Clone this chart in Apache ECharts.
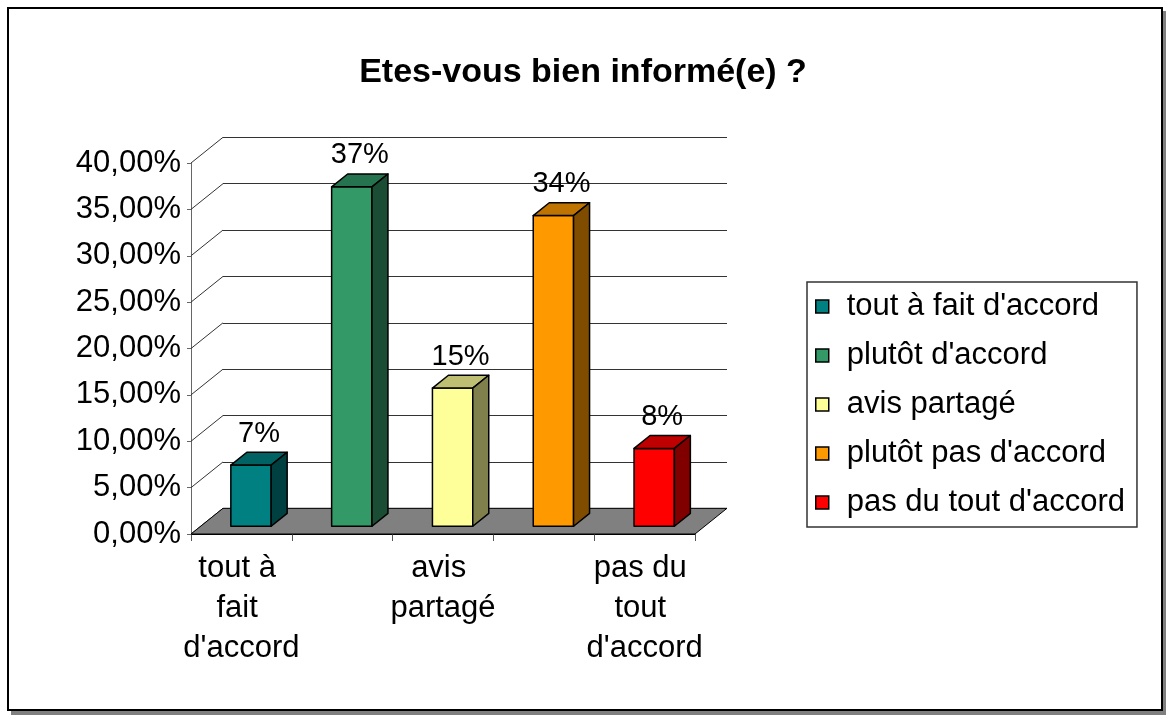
<!DOCTYPE html>
<html>
<head>
<meta charset="utf-8">
<script src="https://cdn.jsdelivr.net/npm/echarts@6/dist/echarts.min.js"></script>
<style>
  html, body { margin: 0; padding: 0; background: #fff; }
  #frame {
    position: absolute; left: 7px; top: 7px; width: 1152px; height: 700px;
    border: 2px solid #000; box-shadow: 4px 4px 0 #808080; background: #fff;
  }
  #chart { position: absolute; left: 0; top: 0; width: 1166px; height: 715px; }
</style>
</head>
<body>
<div id="frame"></div>
<div id="chart"></div>
<script>
  // donnees
  var categories = ["tout à fait d'accord", "plutôt d'accord", "avis partagé", "plutôt pas d'accord", "pas du tout d'accord"];
  var values = [0.066, 0.366, 0.149, 0.335, 0.084];
  var yTicks = [0, 0.05, 0.10, 0.15, 0.20, 0.25, 0.30, 0.35, 0.40];

  // couleurs des faces (avant / dessus / cote)
  var frontColors = ['#008080', '#339966', '#FFFF99', '#FF9900', '#FF0000'];
  var topColors = ['#006262', '#267350', '#BFBF73', '#BF7300', '#BF0000'];
  var sideColors = ['#004040', '#1A4D33', '#80804D', '#804D00', '#800000'];

  var FONT = '"Liberation Sans", Arial, sans-serif';
  // decalage de profondeur (perspective oblique)
  var DX = 32, DY = -25.7;
  var GRID_LEFT = 191, GRID_TOP = 163, GRID_W = 504, GRID_H = 371;

  var myChart = echarts.init(document.getElementById('chart'));

  function renderBar(params, api) {
    var band = api.size([1, 0])[0];
    var c = api.coord([api.value(0), api.value(1)]);
    var b = api.coord([api.value(0), 0]);
    var w = band * 0.4;
    var ox = DX * 0.3, oy = DY * 0.3;
    var dx = DX * 0.5, dy = DY * 0.5;
    var x0 = c[0] - w / 2 + ox, x1 = c[0] + w / 2 + ox;
    var yt = c[1] + oy, yb = b[1] + oy;
    var i = params.seriesIndex - 2;
    var stroke = { stroke: '#000', lineWidth: 1.5, lineJoin: 'round' };
    return {
      type: 'group',
      children: [
        { type: 'rect', shape: { x: x0, y: yt, width: w, height: yb - yt },
          style: Object.assign({ fill: frontColors[i] }, stroke) },
        { type: 'polygon', shape: { points: [[x0, yt], [x1, yt], [x1 + dx, yt + dy], [x0 + dx, yt + dy]] },
          style: Object.assign({ fill: topColors[i] }, stroke) },
        { type: 'polygon', shape: { points: [[x1, yt], [x1 + dx, yt + dy], [x1 + dx, yb + dy], [x1, yb]] },
          style: Object.assign({ fill: sideColors[i] }, stroke) },
        { type: 'text',
          style: { text: Math.round(api.value(1) * 100) + '%', x: (x0 + x1) / 2 + dx / 2, y: yt + dy - 4,
                   fill: '#000', fontSize: 29, fontFamily: FONT, align: 'center', verticalAlign: 'bottom' } }
      ]
    };
  }

  var series = [{
    // parois laterales : diagonales des graduations
    type: 'custom', name: 'walls', xAxisIndex: 0, yAxisIndex: 0, clip: false, silent: true, z: 1,
    data: yTicks.map(function (v) { return [0, v]; }),
    renderItem: function (params, api) {
      var band = api.size([1, 0])[0];
      var p = api.coord([0, api.value(1)]);
      var x = p[0] - band / 2;
      return { type: 'line', shape: { x1: x, y1: p[1], x2: x + DX, y2: p[1] + DY },
               style: { stroke: '#333', lineWidth: 1 } };
    }
  }, {
    // sol
    type: 'custom', name: 'floor', xAxisIndex: 0, yAxisIndex: 0, clip: false, silent: true, z: 2,
    data: [[0, 0]],
    renderItem: function (params, api) {
      var band = api.size([1, 0])[0];
      var xl = api.coord([0, 0])[0] - band / 2;
      var xr = api.coord([categories.length - 1, 0])[0] + band / 2;
      var y = api.coord([0, 0])[1];
      return { type: 'polygon', shape: { points: [[xl, y], [xr, y], [xr + DX, y + DY], [xl + DX, y + DY]] },
               style: { fill: '#808080', stroke: '#000', lineWidth: 1 } };
    }
  }];

  categories.forEach(function (name, i) {
    series.push({
      type: 'custom', name: name, xAxisIndex: 0, yAxisIndex: 0, clip: false, z: 3,
      itemStyle: { color: frontColors[i] },
      data: [[i, values[i]]],
      renderItem: renderBar
    });
  });

  var option = {
    animation: false,
    title: {
      text: 'Etes-vous bien informé(e) ?',
      left: 'center', top: 51,
      textStyle: { fontFamily: FONT, fontSize: 34, fontWeight: 'bold', color: '#000' }
    },
    legend: {
      orient: 'vertical', left: 807, top: 282,
      padding: [9, 12, 9, 8],
      borderColor: '#333', borderWidth: 1.5,
      icon: 'rect', itemWidth: 13, itemHeight: 13, itemGap: 18,
      textStyle: { fontFamily: FONT, fontSize: 31, color: '#000', padding: [0, 0, 0, 13] },
      data: categories.map(function (name, i) {
        return { name: name, itemStyle: { color: frontColors[i], borderColor: '#000', borderWidth: 1.5 } };
      }),
      selectedMode: false
    },
    grid: [
      { left: GRID_LEFT, top: GRID_TOP, width: GRID_W, height: GRID_H, outerBoundsMode: 'none' },
      { left: GRID_LEFT + DX, top: GRID_TOP + DY, width: GRID_W, height: GRID_H, outerBoundsMode: 'none' }
    ],
    xAxis: [{
      type: 'category', gridIndex: 0, data: categories, boundaryGap: true,
      axisLine: { show: true, lineStyle: { color: '#000', width: 1 } },
      axisTick: { show: true, length: 7, alignWithLabel: false, interval: 0, lineStyle: { color: '#555' } },
      axisLabel: {
        interval: 1, margin: 14, width: 125, overflow: 'break', lineHeight: 40,
        fontFamily: FONT, fontSize: 31, color: '#000'
      },
      splitLine: { show: false }
    }, {
      type: 'category', gridIndex: 1, data: categories, show: false
    }],
    yAxis: [{
      type: 'value', gridIndex: 0, min: 0, max: 0.4, interval: 0.05,
      axisLine: { show: true, lineStyle: { color: '#666', width: 1 } },
      axisTick: { show: true, length: 4, lineStyle: { color: '#666' } },
      axisLabel: {
        margin: 10, fontFamily: FONT, fontSize: 31, color: '#000',
        formatter: function (v) { return (v * 100).toFixed(2).replace('.', ',') + '%'; }
      },
      splitLine: { show: false }
    }, {
      type: 'value', gridIndex: 1, min: 0, max: 0.4, interval: 0.05,
      axisLine: { show: false }, axisTick: { show: false }, axisLabel: { show: false },
      splitLine: { show: true, lineStyle: { color: '#333', width: 1 } }
    }],
    series: series
  };

  myChart.setOption(option);
</script>
</body>
</html>
